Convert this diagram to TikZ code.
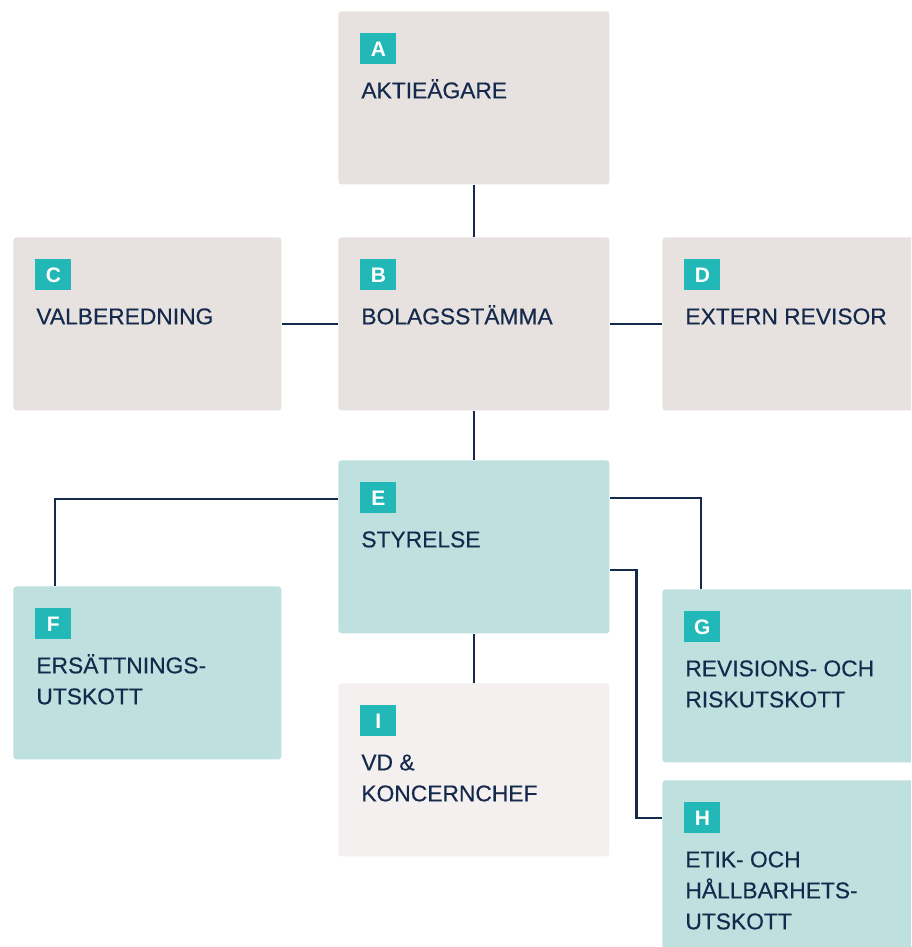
\documentclass[tikz,border=0pt]{standalone}
\usepackage{fontspec}
\setmainfont{Liberation Sans}
\newfontfamily\medfont{Liberation Sans}[FakeBold=0.35]
\usetikzlibrary{positioning}
\definecolor{boxgrey}{HTML}{E7E2DF}
\definecolor{boxteal}{HTML}{BEE1E0}
\definecolor{boxpale}{HTML}{F3F0EF}
\definecolor{badgeteal}{HTML}{22B8B8}
\definecolor{navy}{HTML}{14294B}
\tikzset{
    orgbox/.style={rectangle, rounded corners=1.5pt, inner sep=0pt, anchor=north west,
        minimum width=135.5pt, minimum height=86.5pt},
    badge/.style={fill=badgeteal, text=white, font=\fontsize{10.5}{12}\selectfont\bfseries,
        minimum width=18pt, minimum height=15.5pt, inner sep=0pt},
    boxtext/.style={text=navy, font=\fontsize{11.4}{15.5}\selectfont\medfont, align=left,
        inner sep=0pt, anchor=north west},
    link/.style={draw=navy, line width=1.35pt}
}
% box with letter badge and title
\newcommand{\orgunit}[6]{%
    \node[orgbox, fill=#6, #5] (#1) at (#2) {};
    \node[badge, below right=11pt and 11pt of #1.north west] (#1b) {#3};
    \node[boxtext, below right=32.6pt and 11.5pt of #1.north west] (#1t) {\strut #4};
}
\begin{document}
\begin{tikzpicture}[x=0.5pt, y=-0.5pt]
    \clip (0,0) rectangle (911,947);
    \orgunit{A}{338,11}{A}{AKTIEÄGARE}{}{boxgrey}
    \orgunit{B}{338,237}{B}{BOLAGSSTÄMMA}{}{boxgrey}
    \orgunit{C}{13,237}{C}{VALBEREDNING}{minimum width=134pt}{boxgrey}
    \orgunit{D}{662,237}{D}{EXTERN REVISOR}{}{boxgrey}
    \orgunit{E}{338,460}{E}{STYRELSE}{}{boxteal}
    \orgunit{F}{13,586}{F}{ERSÄTTNINGS-\\UTSKOTT}{minimum width=134pt}{boxteal}
    \orgunit{G}{662,589}{G}{REVISIONS- OCH\\RISKUTSKOTT}{}{boxteal}
    \orgunit{H}{662,780}{H}{ETIK- OCH\\HÅLLBARHETS-\\UTSKOTT}{}{boxteal}
    \orgunit{I}{338,683}{I}{VD \&\\KONCERNCHEF}{}{boxpale}

    \draw[link] (A.south) -- (B.north);
    \draw[link] (C.east) -- (B.west);
    \draw[link] (B.east) -- (D.west);
    \draw[link] (B.south) -- (E.north);
    \draw[link] (E.south) -- (I.north);
    \draw[link] ([shift={(0,39)}]E.north west) -| ([shift={(42,0)}]F.north west);
    \draw[link] ([shift={(0,38)}]E.north east) -| ([shift={(39,0)}]G.north west);
    \draw[link] ([shift={(0,110)}]E.north east) -- ++(27,0) |- ([shift={(0,38)}]H.north west);
\end{tikzpicture}
\end{document}
